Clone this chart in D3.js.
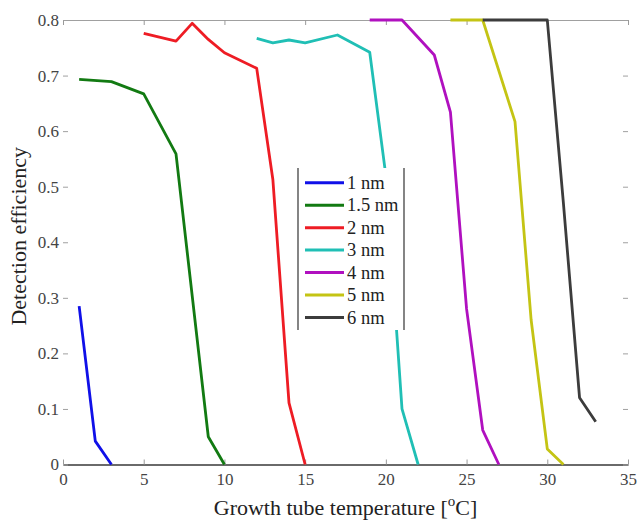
<!DOCTYPE html>
<html>
<head>
<meta charset="utf-8">
<script src="https://cdn.jsdelivr.net/npm/d3@7"></script>
<style>
  html, body { margin: 0; padding: 0; background: #fff; }
  svg { display: block; }
  text { font-family: "Liberation Serif", "Times New Roman", serif; }
</style>
</head>
<body>
<svg id="chart" width="638" height="521"></svg>
<script>
// Detection efficiency vs. growth tube temperature, one curve per particle size
const sizeLabels = ["1 nm", "1.5 nm", "2 nm", "3 nm", "4 nm", "5 nm", "6 nm"];
const seriesColors = ["#1010e8", "#127a12", "#ee1c24", "#20bfb5", "#b010bf", "#c4c414", "#3c3c3c"];

const temp1 = [1, 2, 3];
const eff1  = [0.285, 0.042, 0];
const temp15 = [1, 3, 5, 7, 9, 10];
const eff15  = [0.693, 0.689, 0.667, 0.559, 0.05, 0];
const temp2 = [5, 7, 8, 9, 10, 12, 13, 14, 15];
const eff2  = [0.776, 0.762, 0.794, 0.765, 0.741, 0.713, 0.513, 0.111, 0];
const temp3 = [12, 13, 14, 15, 17, 19, 20, 21, 22];
const eff3  = [0.767, 0.759, 0.764, 0.759, 0.773, 0.742, 0.52, 0.1, 0];
const temp4 = [19, 21, 23, 24, 25, 26, 27];
const eff4  = [0.8, 0.8, 0.737, 0.634, 0.28, 0.062, 0];
const temp5 = [24, 26, 28, 29, 30, 31];
const eff5  = [0.8, 0.8, 0.617, 0.26, 0.028, 0];
const temp6 = [26, 30, 31, 32, 33];
const eff6  = [0.8, 0.8, 0.47, 0.12, 0.077];

const xTicks = [0, 5, 10, 15, 20, 25, 30, 35];
const yTicks = [0, 0.1, 0.2, 0.3, 0.4, 0.5, 0.6, 0.7, 0.8];

const temps = [temp1, temp15, temp2, temp3, temp4, temp5, temp6];
const effs  = [eff1, eff15, eff2, eff3, eff4, eff5, eff6];
const series = sizeLabels.map((label, i) => ({
  label,
  color: seriesColors[i],
  points: temps[i].map((t, j) => ({ t, v: effs[i][j] }))
}));

const svg = d3.select("#chart");
const plotL = 63, plotR = 628, plotT = 20, plotB = 464.5;

const x = d3.scaleLinear().domain([0, 35]).range([plotL, plotR]);
const y = d3.scaleLinear().domain([0, 0.8]).range([plotB, plotT]);

// axes: ticks point inward, left/right spines are not drawn
const gBottom = svg.append("g").attr("transform", `translate(0,${plotB})`)
  .call(d3.axisBottom(x).tickValues(xTicks).tickFormat(d3.format("d"))
    .tickSizeInner(-5).tickSizeOuter(0).tickPadding(8));
gBottom.select(".domain").attr("stroke", "#6a6a6a").attr("stroke-width", 2);
gBottom.selectAll(".tick line").attr("stroke", "#9a9a9a");
gBottom.selectAll(".tick text").attr("font-size", 17).attr("fill", "#444")
  .attr("font-family", "Liberation Serif, serif");

const gTop = svg.append("g").attr("transform", `translate(0,${plotT})`)
  .call(d3.axisTop(x).tickValues(xTicks).tickFormat("")
    .tickSizeInner(-5).tickSizeOuter(0));
gTop.select(".domain").attr("stroke", "#a0a0a0").attr("stroke-width", 1.2);
gTop.selectAll(".tick line").attr("stroke", "#9a9a9a");

const gLeft = svg.append("g").attr("transform", `translate(${plotL},0)`)
  .call(d3.axisLeft(y).tickValues(yTicks).tickFormat(d => d === 0 ? "0" : d3.format(".1f")(d))
    .tickSizeInner(-5).tickSizeOuter(0).tickPadding(4));
gLeft.select(".domain").remove();
gLeft.selectAll(".tick line").attr("stroke", "#a0a0a0");
gLeft.selectAll(".tick text").attr("font-size", 17).attr("fill", "#444")
  .attr("font-family", "Liberation Serif, serif");

const gRight = svg.append("g").attr("transform", `translate(${plotR},0)`)
  .call(d3.axisRight(y).tickValues(yTicks).tickFormat("")
    .tickSizeInner(-5).tickSizeOuter(0));
gRight.select(".domain").remove();
gRight.selectAll(".tick line").attr("stroke", "#a0a0a0");

// efficiency curves
const line = d3.line().x(d => x(d.t)).y(d => y(d.v));
svg.append("g").selectAll("path").data(series).join("path")
  .attr("d", d => line(d.points))
  .attr("fill", "none")
  .attr("stroke", d => d.color)
  .attr("stroke-width", 2.8)
  .attr("stroke-linejoin", "round");

// legend
const lg = svg.append("g");
const lgX0 = 298, lgX1 = 404, lgY0 = 168, lgY1 = 330;
lg.append("rect").attr("x", lgX0).attr("y", lgY0)
  .attr("width", lgX1 - lgX0).attr("height", lgY1 - lgY0)
  .attr("fill", "#fff").attr("stroke", "none");
lg.append("line").attr("x1", lgX0).attr("x2", lgX0).attr("y1", lgY0).attr("y2", lgY1)
  .attr("stroke", "#333").attr("stroke-width", 1.2);
lg.append("line").attr("x1", lgX1).attr("x2", lgX1).attr("y1", lgY0).attr("y2", lgY1)
  .attr("stroke", "#333").attr("stroke-width", 1.2);
const rowY = d3.scalePoint().domain(sizeLabels).range([182.7, 317.5]);
const rows = lg.selectAll("g.row").data(series).join("g").attr("class", "row")
  .attr("transform", d => `translate(0,${rowY(d.label)})`);
rows.append("line").attr("x1", 305).attr("x2", 344)
  .attr("stroke", d => d.color).attr("stroke-width", 3);
rows.append("text").attr("x", 347).attr("y", 0).attr("dy", "0.33em")
  .attr("font-size", 18.5).attr("fill", "#222").text(d => d.label);

// axis titles
const xt = svg.append("text").attr("x", (plotL + plotR) / 2).attr("y", 515)
  .attr("text-anchor", "middle").attr("font-size", 22).attr("fill", "#222");
xt.append("tspan").text("Growth tube temperature [");
xt.append("tspan").attr("font-size", 15).attr("dy", -9).text("o");
xt.append("tspan").attr("dy", 9).text("C]");

svg.append("text")
  .attr("transform", `translate(26,${(plotT + plotB) / 2 - 6}) rotate(-90)`)
  .attr("text-anchor", "middle").attr("font-size", 22).attr("fill", "#222")
  .text("Detection efficiency");
</script>
</body>
</html>
